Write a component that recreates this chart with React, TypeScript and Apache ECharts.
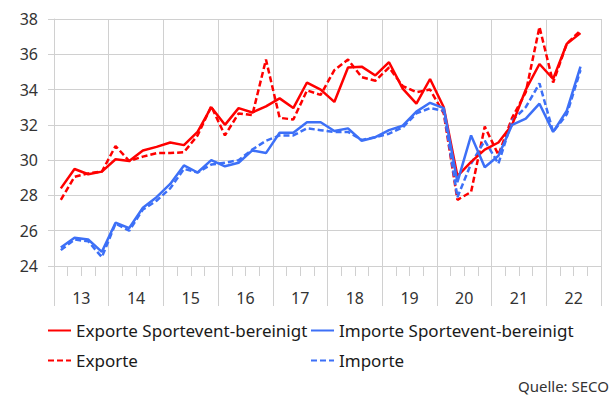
import React, { useEffect, useRef } from "react";
import * as echarts from "echarts";

const years = ["13", "14", "15", "16", "17", "18", "19", "20", "21", "22"];
const quarters: string[] = [];
for (const y of years) for (const q of ["Q1", "Q2", "Q3", "Q4"]) quarters.push("20" + y + q);

const exporteBereinigt = [
  28.4, 29.5, 29.2, 29.35,
  30.05, 29.95, 30.55, 30.75,
  31.0, 30.85, 31.6, 33.0,
  32.0, 32.95, 32.7, 33.05,
  33.5, 32.95, 34.4, 34.0,
  33.3, 35.25, 35.3, 34.8,
  35.55, 34.05, 33.2, 34.6,
  33.0, 29.1, 29.9, 30.6,
  31.0, 32.0, 34.0, 35.45,
  34.6, 36.6, 37.2,
];
const exporte = [
  27.75, 29.05, 29.25, 29.35,
  30.8, 29.95, 30.2, 30.4,
  30.4, 30.45, 31.4, 33.05,
  31.4, 32.65, 32.55, 35.7,
  32.4, 32.3, 33.95, 33.7,
  35.1, 35.7, 34.7, 34.5,
  35.25, 34.2, 33.85, 34.0,
  32.65, 27.75, 28.2, 31.9,
  30.3, 32.4, 33.85, 37.55,
  34.4, 36.6, 37.35,
];
const importeBereinigt = [
  25.05, 25.6, 25.5, 24.8,
  26.45, 26.15, 27.3, 27.9,
  28.65, 29.7, 29.3, 30.0,
  29.65, 29.85, 30.55, 30.4,
  31.55, 31.55, 32.15, 32.15,
  31.65, 31.8, 31.1, 31.3,
  31.7, 31.95, 32.75, 33.25,
  32.95, 28.75, 31.4, 29.6,
  30.25, 32.0, 32.35, 33.2,
  31.6, 32.8, 35.3,
];
const importe = [
  24.9, 25.5, 25.4, 24.5,
  26.4, 26.0, 27.2, 27.7,
  28.4, 29.5, 29.3, 29.75,
  29.85, 30.0, 30.6, 31.1,
  31.4, 31.4, 31.8, 31.7,
  31.6, 31.6, 31.15, 31.3,
  31.5, 31.85, 32.65, 32.95,
  32.8, 27.9, 29.8, 31.1,
  29.8, 32.25, 33.0, 34.35,
  31.6, 32.6, 35.1,
];

const RED = "#ff0000";
const BLUE = "#3d70f7";
const GRID = "#d0d0d0";
const FONT = "Noto Sans";

export default function App() {
  const ref = useRef<HTMLDivElement>(null);
  useEffect(() => {
    if (!ref.current) return;
    const chart = echarts.init(ref.current, undefined, { renderer: "svg" });
    const legendText = { fontFamily: FONT, fontSize: 17, color: "#1a1a1a" };
    const mkLegend = (name: string, left: number, top: number) => ({
      data: [name],
      left,
      top,
      itemWidth: 23,
      itemHeight: 12,
      padding: 0,
      itemStyle: { opacity: 0 },
      textStyle: legendText,
      selectedMode: false,
    });
    chart.setOption({
      animation: false,
      grid: { left: 54, right: 13, top: 19, bottom: 134 },
      legend: [
        mkLegend("Exporte Sportevent-bereinigt", 47, 322),
        mkLegend("Importe Sportevent-bereinigt", 310, 322),
        mkLegend("Exporte", 47, 352),
        mkLegend("Importe", 310, 352),
      ],
      xAxis: [
        {
          type: "category",
          data: quarters,
          boundaryGap: true,
          axisLine: { show: true, lineStyle: { color: GRID, width: 1 } },
          axisTick: { show: true, length: 10, interval: 0, lineStyle: { color: GRID } },
          axisLabel: { show: false },
          splitLine: { show: false },
        },
        {
          type: "category",
          data: years,
          position: "bottom",
          boundaryGap: true,
          axisLine: { show: false },
          axisTick: { show: true, length: 40, interval: 0, lineStyle: { color: GRID } },
          axisLabel: { interval: 0, margin: 24, fontFamily: FONT, fontSize: 16, color: "#333" },
          splitLine: { show: true, interval: 0, lineStyle: { color: GRID } },
        },
      ],
      yAxis: {
        type: "value",
        min: 24,
        max: 38,
        interval: 2,
        axisLine: { show: true, lineStyle: { color: GRID } },
        axisTick: { show: true, length: 6, lineStyle: { color: GRID } },
        axisLabel: { margin: 16, fontFamily: FONT, fontSize: 16, color: "#333" },
        splitLine: { show: true, lineStyle: { color: GRID } },
      },
      graphic: [
        {
          type: "text",
          right: 5,
          top: 378,
          style: { text: "Quelle: SECO", fontFamily: FONT, fontSize: 15, fill: "#333" },
        },
      ],
      series: [
        {
          name: "Exporte Sportevent-bereinigt",
          type: "line",
          data: exporteBereinigt,
          symbol: "none",
          color: RED,
          lineStyle: { color: RED, width: 2.5 },
          z: 4,
        },
        {
          name: "Importe Sportevent-bereinigt",
          type: "line",
          data: importeBereinigt,
          symbol: "none",
          color: BLUE,
          lineStyle: { color: BLUE, width: 2.5 },
          z: 4,
        },
        {
          name: "Exporte",
          type: "line",
          data: exporte,
          symbol: "none",
          color: RED,
          lineStyle: { color: RED, width: 2.5, type: [6, 3] },
          z: 3,
        },
        {
          name: "Importe",
          type: "line",
          data: importe,
          symbol: "none",
          color: BLUE,
          lineStyle: { color: BLUE, width: 2.5, type: [6, 3] },
          z: 3,
        },
      ],
    });
    return () => chart.dispose();
  }, []);
  return (
    <div
      ref={ref}
      style={{ position: "fixed", left: 0, top: 0, width: 614, height: 400, background: "#fff" }}
    />
  );
}
